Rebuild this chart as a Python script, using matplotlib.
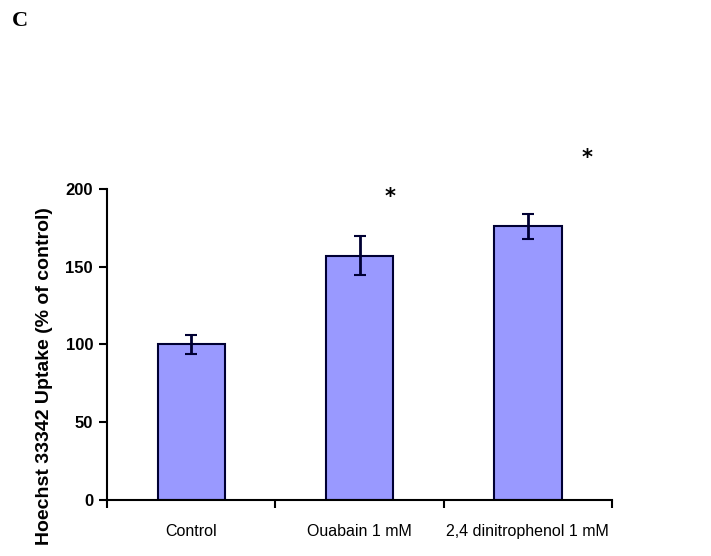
import numpy as np
import matplotlib.pyplot as plt

# data
groups = ['Control', 'Ouabain 1 mM', '2,4 dinitrophenol 1 mM']
uptake = [100, 157, 176]
sem = [6, 12.5, 8]
star_x = [1.18, 2.35]
star_y = [195, 220]

fig = plt.figure(figsize=(7.11, 5.56), dpi=100)
ax = fig.add_axes([0.1505, 0.1007, 0.7103, 0.5594])

x = np.arange(len(groups))
ax.bar(x, uptake, width=0.4, color='#9999ff', edgecolor='#000033', linewidth=1.5, zorder=2)
ax.errorbar(x, uptake, yerr=sem, fmt='none', ecolor='#000033', elinewidth=2,
            capsize=4, capthick=1.5, zorder=3)
for sx, sy in zip(star_x, star_y):
    ax.text(sx, sy, '*', ha='center', va='center', fontsize=15, fontweight='bold')

ax.set_xlim(-0.5, 2.5)
ax.set_ylim(0, 200)
ax.set_yticks([0, 50, 100, 150, 200])
ax.set_xticks([-0.5, 0.5, 1.5, 2.5])
ax.set_xticklabels([])
ax.set_xticks(x, minor=True)
ax.set_xticklabels(groups, minor=True, fontsize=11.5, family='Liberation Sans')
ax.tick_params(axis='x', which='minor', length=0, pad=17)
ax.tick_params(axis='x', which='major', length=6, width=1.5, direction='out')
ax.tick_params(axis='y', length=6, width=1.5, direction='out', pad=4)
for lab in ax.get_yticklabels():
    lab.set_fontweight('bold')
    lab.set_fontsize(12)
    lab.set_family('Liberation Sans')
ax.spines['top'].set_visible(False)
ax.spines['right'].set_visible(False)
ax.spines['left'].set_linewidth(1.5)
ax.spines['bottom'].set_linewidth(1.5)
ax.set_ylabel('Hoechst 33342 Uptake (% of control)', fontsize=14, fontweight='bold',
              family='Liberation Sans')
ax.yaxis.set_label_coords(-0.107, 0.40)

fig.text(0.017, 0.962, 'C', fontsize=16, fontweight='bold', family='Liberation Serif',
         va='center', ha='left')

plt.savefig('out.png', dpi=100)
